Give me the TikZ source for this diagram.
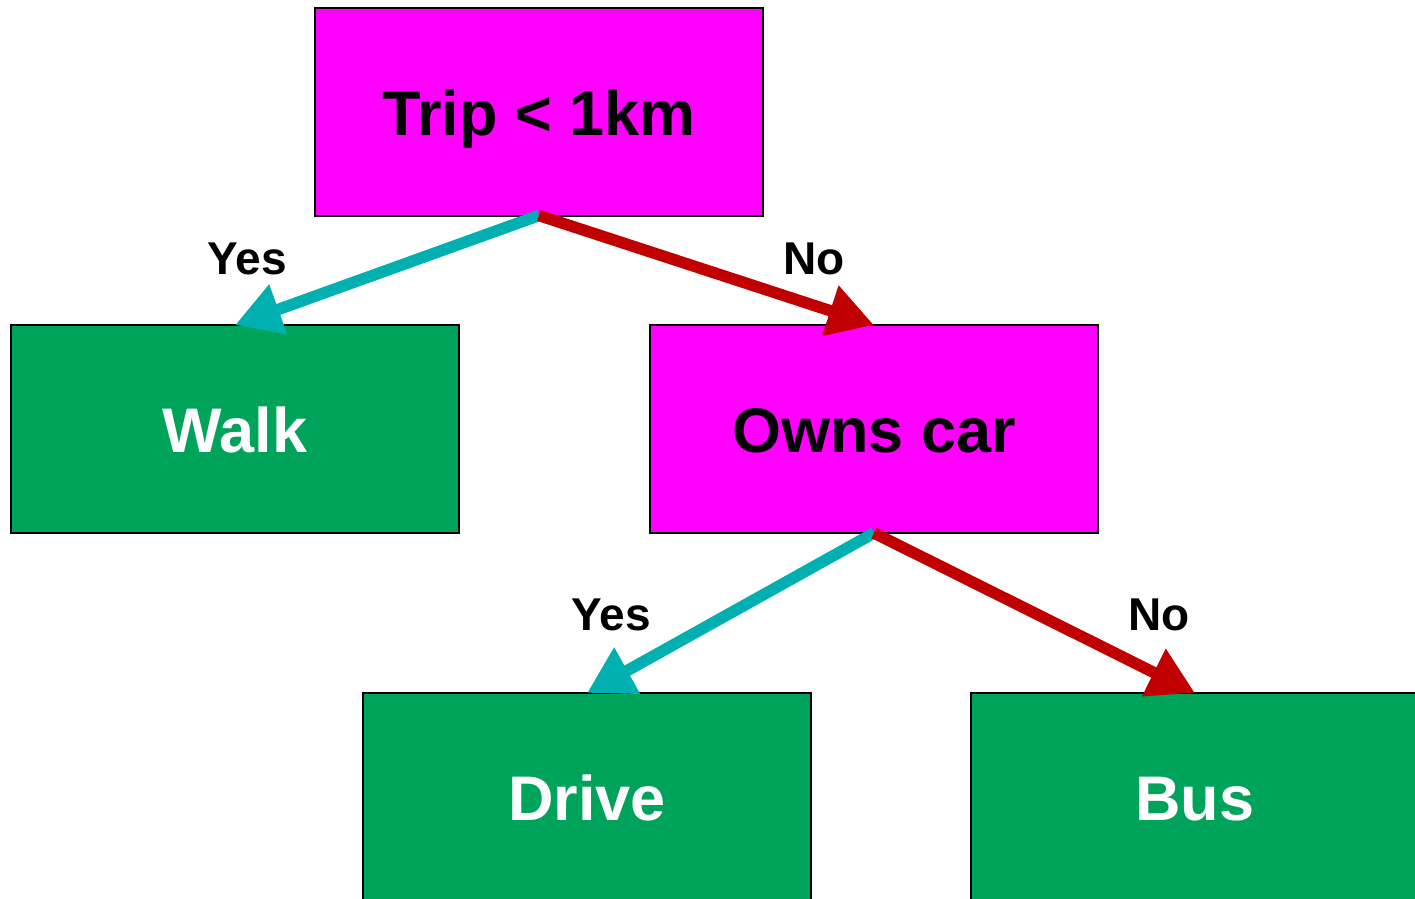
\documentclass[tikz,border=0pt]{standalone}
\usepackage{fontspec}
\setmainfont{Liberation Sans}
\usetikzlibrary{arrows.meta}
\definecolor{magbox}{RGB}{255,0,255}
\definecolor{greenbox}{RGB}{0,163,90}
\definecolor{tealarrow}{RGB}{0,176,176}
\definecolor{redarrow}{RGB}{192,0,0}
\tikzset{
  box/.style={draw=black, line width=2pt, minimum width=448pt, minimum height=208pt,
    inner sep=0pt, outer sep=0pt, font=\bfseries\fontsize{63}{75}\selectfont,
    text height=47pt, text depth=0pt},
  decision/.style={box, fill=magbox, text=black},
  leaf/.style={box, fill=greenbox, text=white},
  yesarrow/.style={draw=tealarrow, line width=11.5pt, -{Triangle[width=50pt,length=46pt]}, fill=tealarrow},
  noarrow/.style={draw=redarrow, line width=11.5pt, -{Triangle[width=50pt,length=46pt]}, fill=redarrow},
  edgelabel/.style={font=\bfseries\fontsize{46}{55}\selectfont, inner sep=0pt, text height=33pt, text depth=0pt}
}
\begin{document}
\begin{tikzpicture}[x=1pt,y=-1pt]
\useasboundingbox (0,0) rectangle (1415,898);
\clip (0,0) rectangle (1415,898);
\node[decision] (trip) at (539,111.5) {Trip < 1km};
\node[leaf] (walk) at (235,429) {Walk};
\node[decision] (owns) at (874,429) {Owns car};
\node[leaf] (drive) at (587,797) {Drive};
\node[leaf] (bus) at (1195,797) {Bus};
\draw[yesarrow] (trip.south) -- (walk.north);
\draw[noarrow] (trip.south) -- (owns.north);
\draw[yesarrow] (owns.south) -- (drive.north);
\draw[noarrow] (owns.south) -- (bus.north);
\node[edgelabel] (l1) at (247,258) {Yes};
\node[edgelabel] (l2) at (814,258) {No};
\node[edgelabel] (l3) at (611,614) {Yes};
\node[edgelabel] (l4) at (1159,614) {No};
\end{tikzpicture}
\end{document}
